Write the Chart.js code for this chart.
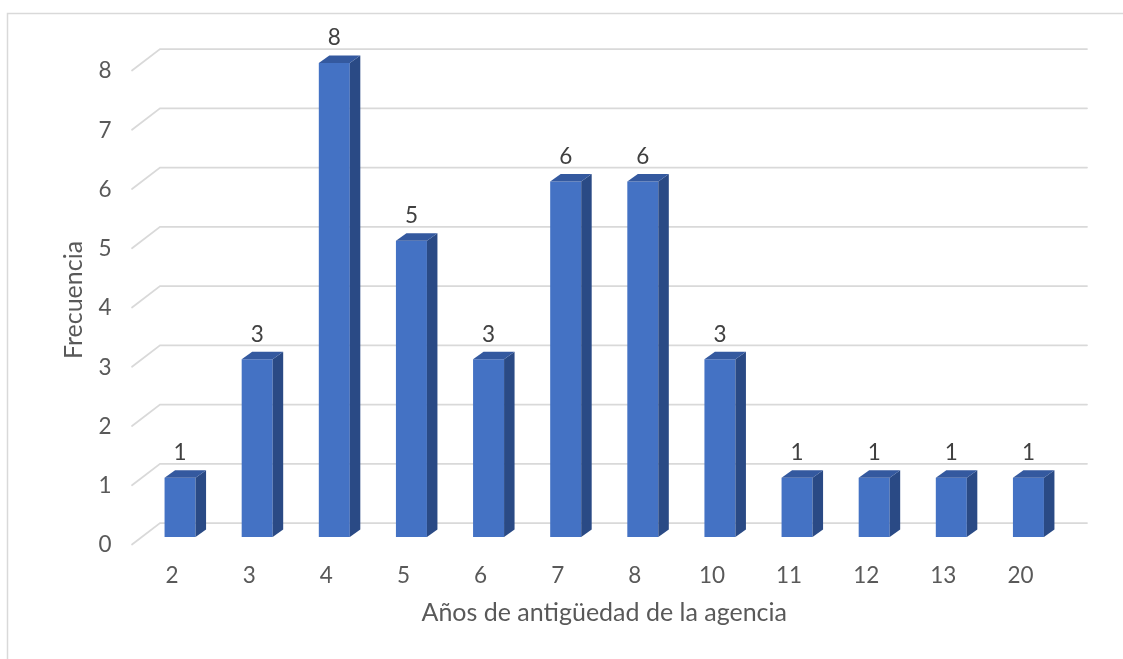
<!DOCTYPE html>
<html>
<head>
<meta charset="utf-8">
<script src="https://cdn.jsdelivr.net/npm/chart.js@4/dist/chart.umd.min.js"></script>
<style>
  html, body { margin: 0; padding: 0; background: #ffffff; }
  #wrap { width: 1123px; height: 659px; position: relative; }
</style>
</head>
<body>
<div id="wrap"><canvas id="chart" width="1123" height="659"></canvas></div>
<script>
// Años de antigüedad de la agencia vs. frecuencia
const categories = ['2', '3', '4', '5', '6', '7', '8', '10', '11', '12', '13', '20'];
const frecuencia = [1, 3, 8, 5, 3, 6, 6, 3, 1, 1, 1, 1];
const yTickValues = [0, 1, 2, 3, 4, 5, 6, 7, 8];

const FONT = 'Lato, "Open Sans", "Noto Sans", sans-serif';
const TEXT = '#595959';
const GRID = '#D9D9D9';
const FRONT = '#4472C4';
const SIDE = '#2A4A85';
const TOP = '#34599F';

// depth of the 3D columns and of the back wall
const DEPTH_X = 10.5, DEPTH_Y = 7.5;
const WALL_BACK_X = 18.5, WALL_BACK_Y = -14;
const WALL_FRONT_X = -9.5, WALL_FRONT_Y = 7.5;
const WALL_RIGHT = 20;

const framePlugin = {
  id: 'frame',
  beforeDraw(chart) {
    const ctx = chart.ctx;
    ctx.save();
    ctx.fillStyle = '#ffffff';
    ctx.fillRect(0, 0, chart.width, chart.height);
    ctx.strokeStyle = GRID;
    ctx.lineWidth = 1.5;
    ctx.beginPath();
    ctx.moveTo(7.5, chart.height + 5);
    ctx.lineTo(7.5, 13.5);
    ctx.lineTo(chart.width + 5, 13.5);
    ctx.stroke();
    ctx.restore();
  }
};

// back wall gridlines with the slanted floor edge on the left
const wallPlugin = {
  id: 'wall',
  beforeDatasetsDraw(chart) {
    const ctx = chart.ctx;
    const y = chart.scales.y;
    const area = chart.chartArea;
    ctx.save();
    ctx.strokeStyle = GRID;
    ctx.lineWidth = 1.75;
    ctx.lineCap = 'round';
    y.ticks.forEach(t => {
      const py = y.getPixelForValue(t.value);
      ctx.beginPath();
      ctx.moveTo(area.left + WALL_FRONT_X, py + WALL_FRONT_Y);
      ctx.lineTo(area.left + WALL_BACK_X, py + WALL_BACK_Y);
      ctx.lineTo(area.right + WALL_RIGHT, py + WALL_BACK_Y);
      ctx.stroke();
    });
    ctx.restore();
  }
};

// side and top faces of each column, then the value labels
const columnPlugin = {
  id: 'columns3d',
  afterDatasetsDraw(chart) {
    const ctx = chart.ctx;
    const meta = chart.getDatasetMeta(0);
    const data = chart.data.datasets[0].data;
    ctx.save();
    meta.data.forEach(bar => {
      const p = bar.getProps(['x', 'y', 'base', 'width'], true);
      const l = p.x - p.width / 2, r = p.x + p.width / 2;
      ctx.fillStyle = SIDE;
      ctx.beginPath();
      ctx.moveTo(r, p.y);
      ctx.lineTo(r + DEPTH_X, p.y - DEPTH_Y);
      ctx.lineTo(r + DEPTH_X, p.base - DEPTH_Y);
      ctx.lineTo(r, p.base);
      ctx.closePath();
      ctx.fill();
      ctx.fillStyle = TOP;
      ctx.beginPath();
      ctx.moveTo(l, p.y);
      ctx.lineTo(l + DEPTH_X, p.y - DEPTH_Y);
      ctx.lineTo(r + DEPTH_X, p.y - DEPTH_Y);
      ctx.lineTo(r, p.y);
      ctx.closePath();
      ctx.fill();
    });
    ctx.fillStyle = '#404040';
    ctx.font = '22.5px ' + FONT;
    ctx.textAlign = 'center';
    ctx.textBaseline = 'middle';
    meta.data.forEach((bar, i) => {
      const p = bar.getProps(['x', 'y'], true);
      ctx.fillText(String(data[i]), p.x, p.y - 25);
    });
    ctx.restore();
  }
};

new Chart(document.getElementById('chart'), {
  type: 'bar',
  data: {
    labels: categories,
    datasets: [{
      data: frecuencia,
      backgroundColor: FRONT,
      borderWidth: 0,
      categoryPercentage: 1,
      barPercentage: 0.402
    }]
  },
  options: {
    responsive: false,
    animation: false,
    devicePixelRatio: 1,
    layout: { padding: { top: 63, right: 56, bottom: 0, left: 0 } },
    plugins: { legend: { display: false }, tooltip: { enabled: false } },
    scales: {
      x: {
        type: 'category',
        offset: true,
        grid: { display: false, drawTicks: false },
        border: { display: false },
        ticks: {
          color: TEXT,
          font: { family: FONT, size: 22.5 },
          padding: 25,
          labelOffset: -8,
          maxRotation: 0,
          autoSkip: false
        },
        title: {
          display: true,
          text: 'Años de antigüedad de la agencia',
          color: TEXT,
          font: { family: FONT, size: 25 },
          padding: { top: 0, bottom: 31 }
        },
        afterFit(scale) { scale.height = 122; }
      },
      y: {
        min: 0,
        max: 8,
        afterBuildTicks(scale) { scale.ticks = yTickValues.map(v => ({ value: v })); },
        grid: { display: false, drawTicks: false },
        border: { display: false },
        ticks: {
          color: TEXT,
          font: { family: FONT, size: 22.5 },
          padding: 30,
          labelOffset: 8
        },
        title: {
          display: true,
          text: 'Frecuencia',
          color: TEXT,
          font: { family: FONT, size: 25 },
          padding: { top: 59, bottom: 0 }
        },
        afterFit(scale) { scale.width = 141.5; }
      }
    }
  },
  plugins: [framePlugin, wallPlugin, columnPlugin]
});
</script>
</body>
</html>
